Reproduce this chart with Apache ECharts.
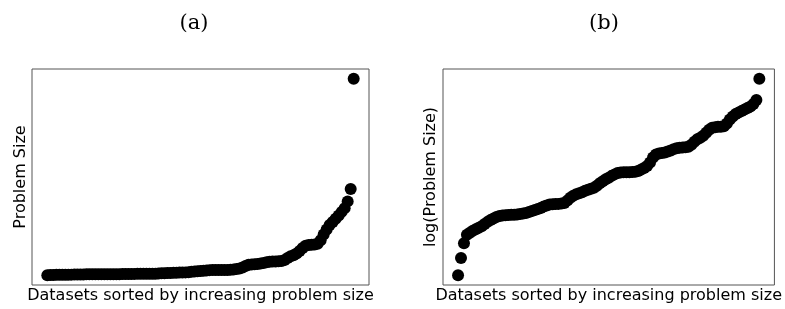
<!DOCTYPE html>
<html>
<head>
<meta charset="utf-8">
<script src="https://cdn.jsdelivr.net/npm/echarts@6/dist/echarts.min.js"></script>
<style>
html,body{margin:0;padding:0;background:#fff;}
#c{width:785px;height:309px;}
</style>
</head>
<body>
<div id="c"></div>
<script>
// Problem sizes, sorted ascending (one value per dataset)
const problemSizes = [
  40, 78, 138, 191, 206, 223, 236, 250, 265, 291,
  315, 340, 360, 381, 396, 404, 407, 410, 413, 416,
  419, 427, 436, 444, 461, 480, 498, 518, 538, 570,
  592, 615, 620, 627, 632, 639, 651, 717, 804, 869,
  920, 956, 993, 1052, 1093, 1136, 1180, 1274, 1402, 1514,
  1634, 1731, 1869, 1980, 2097, 2138, 2140, 2145, 2150, 2163,
  2196, 2264, 2399, 2541, 2743, 3136, 3798, 4262, 4428, 4514,
  4602, 4781, 4968, 5261, 5467, 5573, 5615, 5680, 5791, 6252,
  7015, 7720, 8177, 8828, 9904, 11110, 11995, 12320, 12463, 12560,
  12802, 14253, 16617, 18640, 20512, 21727, 23014, 24378, 25816, 27345,
  30093, 35087, 80000
];
const panelTitles = ['(a)', '(b)'];
const xAxisName = 'Datasets sorted by increasing problem size';
const yAxisNames = ['Problem Size', 'log(Problem Size)'];

const points = problemSizes.map((v, i) => [i, v]);
const n = problemSizes.length;
const xPad = 0.05 * (n - 1);
const vMin = Math.min(...problemSizes), vMax = Math.max(...problemSizes);
const linPad = 0.05 * (vMax - vMin);
const lMin = Math.log10(vMin), lMax = Math.log10(vMax);
const logPad = 0.05 * (lMax - lMin);

const chart = echarts.init(document.getElementById('c'), null, {renderer: 'canvas'});
const labelFont = {fontFamily: 'DejaVu Sans', fontSize: 16, color: '#000'};
const gridBase = {top: 69, height: 218, width: 337, show: true, borderColor: '#555', borderWidth: 1, backgroundColor: 'transparent', containLabel: false};

function xAx(idx) {
  return {
    gridIndex: idx, type: 'value', min: -xPad, max: (n - 1) + xPad,
    axisLine: {show: false}, axisTick: {show: false}, axisLabel: {show: false}, splitLine: {show: false},
    name: xAxisName, nameLocation: 'middle', nameGap: 3, nameTextStyle: labelFont
  };
}
function yAx(idx, isLog) {
  const base = {
    gridIndex: idx,
    axisLine: {show: false}, axisTick: {show: false}, axisLabel: {show: false}, splitLine: {show: false},
    name: yAxisNames[idx], nameLocation: 'middle', nameGap: isLog ? 4 : 3, nameTextStyle: labelFont
  };
  if (isLog) {
    return Object.assign(base, {type: 'log', logBase: 10, min: Math.pow(10, lMin - logPad), max: Math.pow(10, lMax + logPad)});
  }
  return Object.assign(base, {type: 'value', min: vMin - linPad, max: vMax + linPad});
}
const serieStyle = {type: 'scatter', symbol: 'circle', symbolSize: 12, itemStyle: {color: '#000', opacity: 1}, silent: true, animation: false};

chart.setOption({
  animation: false,
  backgroundColor: '#fff',
  grid: [Object.assign({left: 32}, gridBase), Object.assign({left: 443}, gridBase)],
  xAxis: [xAx(0), xAx(1)],
  yAxis: [yAx(0, false), yAx(1, true)],
  series: [
    Object.assign({xAxisIndex: 0, yAxisIndex: 0, data: points}, serieStyle),
    Object.assign({xAxisIndex: 1, yAxisIndex: 1, data: points}, serieStyle)
  ],
  graphic: [
    {type: 'text', x: 194, y: 24, style: {text: panelTitles[0], font: '21px "DejaVu Serif"', fill: '#000', textAlign: 'center', textVerticalAlign: 'middle'}},
    {type: 'text', x: 604, y: 24, style: {text: panelTitles[1], font: '21px "DejaVu Serif"', fill: '#000', textAlign: 'center', textVerticalAlign: 'middle'}}
  ]
});
</script>
</body>
</html>
